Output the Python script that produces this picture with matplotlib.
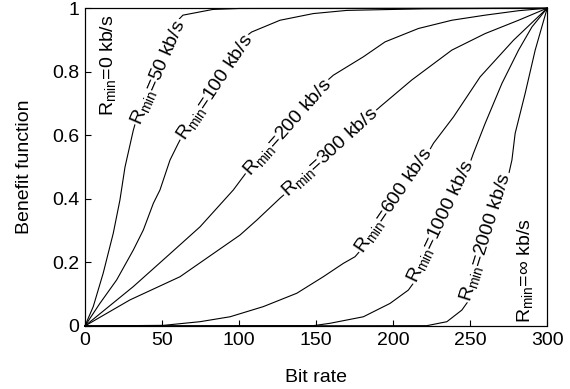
import matplotlib
matplotlib.use("Agg")
import matplotlib.pyplot as plt

plt.rcParams['font.family'] = ['Liberation Sans', 'DejaVu Sans']
plt.rcParams['mathtext.fontset'] = 'custom'
plt.rcParams['mathtext.rm'] = 'Liberation Sans'
plt.rcParams['mathtext.it'] = 'Liberation Sans'

# Curves (bit rate, benefit)
x_r0 = [0, 0, 300]
y_r0 = [0, 1, 1]

x_r50 = [0, 5.4, 11.9, 18.4, 22.7, 26, 31.4, 40, 48, 56, 63.6, 83, 100, 300]
y_r50 = [0, 0.061, 0.167, 0.292, 0.396, 0.50, 0.616, 0.76, 0.87, 0.94, 0.978, 0.996, 0.999, 1]

x_r100 = [0, 9.7, 20.6, 31.4, 37.9, 44.4, 48.7, 55.2, 60.6, 70, 80, 90, 100, 108.2, 126.6, 148.2, 170, 220, 300]
y_r100 = [0, 0.071, 0.145, 0.239, 0.302, 0.386, 0.428, 0.522, 0.575, 0.66, 0.76, 0.84, 0.895, 0.925, 0.962, 0.983, 0.993, 0.998, 1]

x_r200 = [0, 31.4, 53.1, 74.7, 96.3, 102.6, 115, 130, 145, 161.2, 180.7, 194.8, 216.4, 238.1, 259.7, 281.4, 300]
y_r200 = [0, 0.124, 0.218, 0.312, 0.428, 0.469, 0.55, 0.64, 0.72, 0.789, 0.847, 0.894, 0.936, 0.962, 0.978, 0.992, 1]

x_r300 = [0, 29.2, 61.7, 100.6, 111.5, 126.6, 145, 160, 175, 191.6, 212.1, 238.1, 259.7, 281.4, 300]
y_r300 = [0, 0.082, 0.155, 0.286, 0.333, 0.402, 0.48, 0.55, 0.62, 0.69, 0.774, 0.868, 0.92, 0.962, 1]

x_r600 = [0, 51, 74.7, 94.2, 115.8, 137.5, 154.7, 167.7, 175.3, 190, 205, 215, 226.2, 239.2, 256.5, 278.1, 300]
y_r600 = [0, 0.002, 0.0135, 0.029, 0.061, 0.103, 0.155, 0.197, 0.218, 0.30, 0.40, 0.48, 0.575, 0.658, 0.784, 0.899, 1]

x_r1000 = [0, 148.2, 159.1, 180.7, 198, 209.9, 220, 232, 243, 252.1, 259.7, 270.6, 281.4, 290.1, 300]
y_r1000 = [0, 0.001, 0.0085, 0.029, 0.071, 0.113, 0.18, 0.28, 0.42, 0.543, 0.637, 0.763, 0.868, 0.941, 1]

x_r2000 = [0, 221.9, 234.9, 244.6, 252, 260, 267, 272.7, 277.1, 279.2, 285.7, 292.2, 300]
y_r2000 = [0, 0.001, 0.0135, 0.05, 0.10, 0.20, 0.31, 0.428, 0.522, 0.606, 0.732, 0.868, 1]

x_rinf = [0, 300, 300]
y_rinf = [0, 0, 1]

curves = [(x_r0, y_r0), (x_r50, y_r50), (x_r100, y_r100), (x_r200, y_r200),
          (x_r300, y_r300), (x_r600, y_r600), (x_r1000, y_r1000),
          (x_r2000, y_r2000), (x_rinf, y_rinf)]

rmin_labels = ['0', '50', '100', '200', '300', '600', '1000', '2000', '\u221e']
label_x = [15, 47.4, 84.4, 131.5, 159.1, 200.6, 230.8, 259.7, 285.7]
label_y = [0.82, 0.799, 0.75, 0.626, 0.546, 0.396, 0.329, 0.281, 0.173]
label_rot = [90, 66.5, 56.3, 48.3, 42.3, 55.6, 64.6, 72.6, 90]

x_ticks = [0, 50, 100, 150, 200, 250, 300]
y_ticks = [0, 0.2, 0.4, 0.6, 0.8, 1]
y_ticklabels = ['0', '0.2', '0.4', '0.6', '0.8', '1']

fig = plt.figure(figsize=(5.70, 3.89), dpi=100)
ax = fig.add_axes([0.149, 0.162, 0.811, 0.817])

for xs, ys in curves:
    ax.plot(xs, ys, color='black', linewidth=0.8, clip_on=False)

for lab, lx, ly, rot in zip(rmin_labels, label_x, label_y, label_rot):
    ax.text(lx, ly, r'$\mathregular{R_{min}}$=' + lab + ' kb/s', rotation=rot,
            rotation_mode='anchor', ha='center', va='center', fontsize=14,
            bbox=dict(boxstyle='square,pad=0.05', facecolor='white', edgecolor='none'))

ax.set_xlim(0, 300)
ax.set_ylim(0, 1)
ax.set_xticks(x_ticks)
ax.set_yticks(y_ticks)
ax.set_yticklabels(y_ticklabels)
ax.tick_params(direction='in', length=4, width=0.8, labelsize=14, pad=4)
for s in ax.spines.values():
    s.set_linewidth(0.8)
ax.set_xlabel('Bit rate', fontsize=14, labelpad=15)
ax.set_ylabel('Benefit function', fontsize=14, labelpad=14)

fig.savefig('out.png', dpi=100)
